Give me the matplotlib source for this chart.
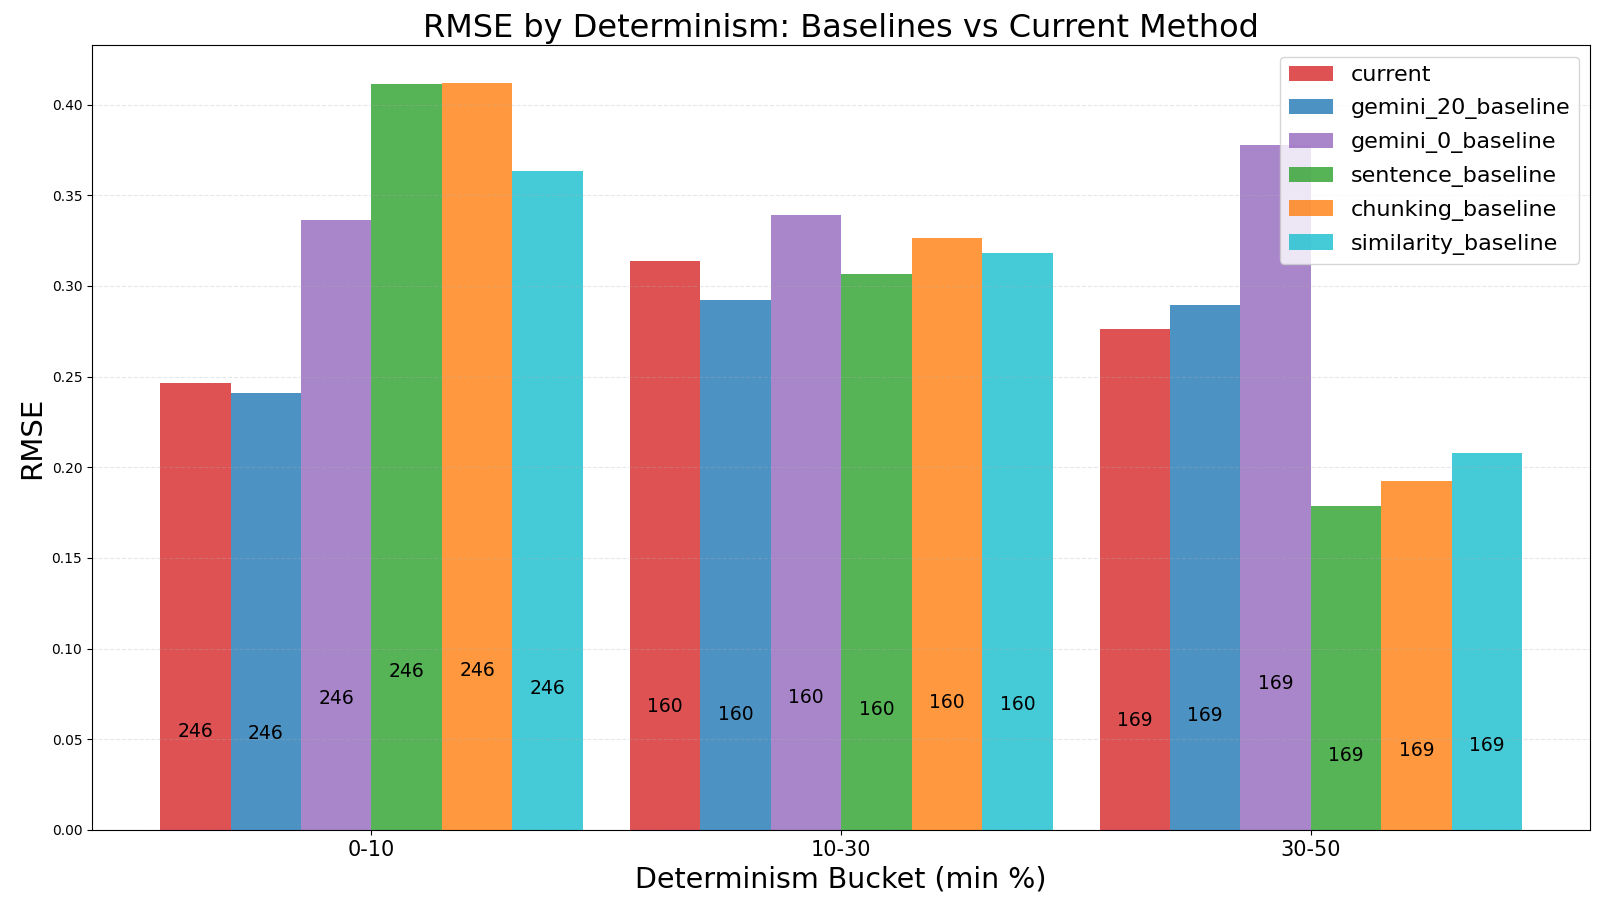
import numpy as np
import matplotlib
matplotlib.use("Agg")
from matplotlib import pyplot as plt

# buckets and per-method rmse values
buckets = ["0-10", "10-30", "30-50"]
methods = ["current", "gemini_20_baseline", "gemini_0_baseline",
           "sentence_baseline", "chunking_baseline", "similarity_baseline"]
colors = ["tab:red", "tab:blue", "tab:purple", "tab:green", "tab:orange", "tab:cyan"]

current = [0.2464, 0.3138, 0.2763]
gemini_20 = [0.2410, 0.2922, 0.2892]
gemini_0 = [0.3363, 0.3392, 0.3775]
sentence = [0.4115, 0.3067, 0.1789]
chunking = [0.4120, 0.3264, 0.1923]
similarity = [0.3633, 0.3183, 0.2078]
counts = [246, 160, 169]

series = [current, gemini_20, gemini_0, sentence, chunking, similarity]

fig, ax = plt.subplots(figsize=(16, 9.09), dpi=100)
fig.subplots_adjust(left=0.0575, right=0.994, top=0.95, bottom=0.087)

x = np.arange(len(buckets))
width = 0.15
for i, (name, vals) in enumerate(zip(methods, series)):
    pos = x + (i - 2.5) * width
    bars = ax.bar(pos, vals, width, label=name, color=colors[i], alpha=0.8)
    for b, n in zip(bars, counts):
        h = b.get_height()
        ax.text(b.get_x() + b.get_width() / 2, h * 0.2, str(n),
                ha="center", va="bottom", fontsize=13.5)

ax.set_ylim(0, max(max(s) for s in series) * 1.05)
ax.set_xticks(x)
ax.set_xticklabels(buckets, fontsize=15)
ax.set_xlabel("Determinism Bucket (min %)", fontsize=20.5)
ax.set_ylabel("RMSE", fontsize=21)
ax.set_title("RMSE by Determinism: Baselines vs Current Method", fontsize=23)
ax.grid(axis="y", linestyle="--", alpha=0.3)
ax.legend(fontsize=16, loc="upper right", labelspacing=0.58)

plt.savefig("out.png", dpi=100)
